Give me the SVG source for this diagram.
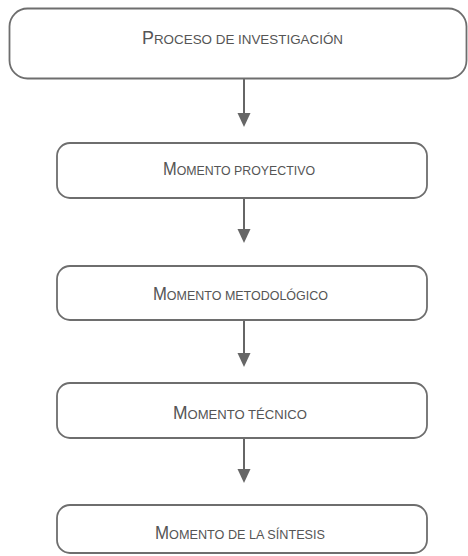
<svg xmlns="http://www.w3.org/2000/svg" width="468" height="556" viewBox="0 0 468 556">
<defs>
<style>
.box{fill:#fff;stroke:#6e6e6e;stroke-width:1.8}
.lbl{font-family:"Liberation Sans",Arial,sans-serif;fill:#555;text-anchor:start}
.big{font-size:18px}
.sm{font-size:13.5px}
.conn{stroke:#666;stroke-width:2;fill:none}
</style>
</defs>
<rect width="468" height="556" fill="#fff"/>
<g id="connectors">
<line class="conn" x1="244" y1="79" x2="244" y2="113"/>
<path d="M237.5,113 L250.5,113 L244,127 Z" fill="#666"/>
<line class="conn" x1="244" y1="198" x2="244" y2="229"/>
<path d="M237.5,229 L250.5,229 L244,243 Z" fill="#666"/>
<line class="conn" x1="244" y1="320" x2="244" y2="353"/>
<path d="M237.5,353 L250.5,353 L244,367 Z" fill="#666"/>
<line class="conn" x1="244" y1="438" x2="244" y2="469"/>
<path d="M237.5,469 L250.5,469 L244,483 Z" fill="#666"/>
</g>
<g id="n1">
<rect class="box" x="9.5" y="8.5" width="457" height="70" rx="18" ry="18"/>
<text class="lbl" x="142" y="43.5" textLength="201" lengthAdjust="spacingAndGlyphs"><tspan class="big">P</tspan><tspan class="sm">ROCESO DE INVESTIGACIÓN</tspan></text>
</g>
<g id="n2">
<rect class="box" x="57" y="143" width="370" height="55" rx="13" ry="13"/>
<text class="lbl" x="163" y="175" textLength="152" lengthAdjust="spacingAndGlyphs"><tspan class="big">M</tspan><tspan class="sm">OMENTO PROYECTIVO</tspan></text>
</g>
<g id="n3">
<rect class="box" x="57" y="266" width="370" height="54" rx="13" ry="13"/>
<text class="lbl" x="153" y="300" textLength="175" lengthAdjust="spacingAndGlyphs"><tspan class="big">M</tspan><tspan class="sm">OMENTO METODOLÓGICO</tspan></text>
</g>
<g id="n4">
<rect class="box" x="57" y="383" width="370" height="55" rx="13" ry="13"/>
<text class="lbl" x="173" y="419" textLength="134" lengthAdjust="spacingAndGlyphs"><tspan class="big">M</tspan><tspan class="sm">OMENTO TÉCNICO</tspan></text>
</g>
<g id="n5">
<rect class="box" x="57" y="505" width="370" height="48" rx="13" ry="13"/>
<text class="lbl" x="155" y="539" textLength="170" lengthAdjust="spacingAndGlyphs"><tspan class="big">M</tspan><tspan class="sm">OMENTO DE LA SÍNTESIS</tspan></text>
</g>
</svg>
